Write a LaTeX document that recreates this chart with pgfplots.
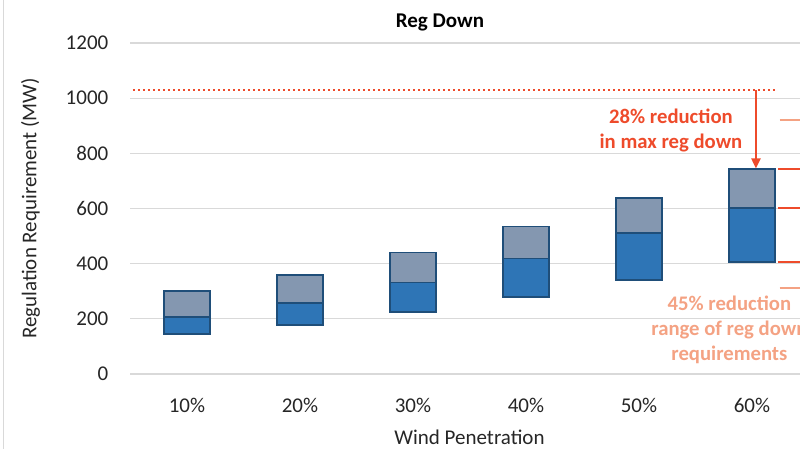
\documentclass[border=0pt]{standalone}
\usepackage{fontspec}
\setmainfont{Carlito}
\usepackage{pgfplots}
\usepackage{pgfplotstable}
\pgfplotsset{compat=1.18}
\usetikzlibrary{arrows.meta}

\definecolor{barblue}{HTML}{2E75B6}
\definecolor{bargray}{HTML}{8497B0}
\definecolor{baredge}{HTML}{1F4E79}
\definecolor{gridgray}{HTML}{D9D9D9}
\definecolor{redline}{HTML}{EE4B2B}
\definecolor{salmon}{HTML}{F4A283}
\definecolor{txt}{HTML}{262626}

% min, (mid-min), (max-mid) per wind penetration level
\pgfplotstableread{
x base low high
0 145 62 94
1 178 79 102
2 224 108 108
3 280 138 116
4 341 170 127
5 406 196 141
}\regdown

\pgfplotsset{
  geom/.style={
    at={(0pt,0pt)}, anchor=south west,
    scale only axis, width=678pt, height=331pt,
    xmin=-0.5, xmax=5.5, ymin=0, ymax=1200,
  },
}

\begin{document}
\begin{tikzpicture}
\begin{axis}[
  geom,
  ybar stacked, bar width=46pt,
  xtick={0,...,5}, xticklabels={10\%,20\%,30\%,40\%,50\%,60\%},
  ytick={0,200,...,1200},
  ymajorgrids, major grid style={gridgray, line width=1.3pt},
  axis line style={draw=none}, major tick length=0pt,
  tick label style={font=\fontsize{21}{25}\selectfont, text=txt},
  /pgf/number format/assume math mode=true,
  /pgf/number format/1000 sep={},
  yticklabel style={anchor=east, inner sep=0pt, xshift=-22pt},
  xticklabel style={anchor=north, inner sep=0pt, yshift=-24pt},
  title={Reg Down},
  title style={at={(axis description cs:0.4565,1)}, anchor=center, yshift=15pt,
    font=\fontsize{21}{25}\selectfont\bfseries, text=black},
  xlabel={Wind Penetration},
  xlabel style={at={(axis description cs:0.5,0)}, anchor=center, yshift=-63pt,
    font=\fontsize{21}{25}\selectfont, text=txt},
  ylabel={Regulation Requirement (MW)},
  ylabel style={at={(axis description cs:-0.1475,0.5)}, anchor=center,
    font=\fontsize{21}{25}\selectfont, text=txt},
  clip=false,
]
\addplot[draw=none, fill=none] table[x=x, y=base] {\regdown};
\addplot[fill=barblue, draw=baredge, line width=1.5pt] table[x=x, y=low] {\regdown};
\addplot[fill=bargray, draw=baredge, line width=1.5pt] table[x=x, y=high] {\regdown};
\end{axis}

\begin{axis}[geom, hide axis, clip=false]
% max reg down reference level
\addplot[redline, line width=2.2pt, dash pattern=on 2.2pt off 2.8pt]
  coordinates {(-0.48,1030) (5.22,1030)};
\addplot[redline, line width=2pt, -{Triangle[length=10pt,width=9pt]}]
  coordinates {(5.035,1030) (5.035,745)};
% range markers
\addplot[redline, line width=2.5pt] coordinates {(5.23,743) (5.6,743)};
\addplot[redline, line width=2.5pt] coordinates {(5.23,602) (5.6,602)};
\addplot[redline, line width=2.5pt] coordinates {(5.23,406) (5.6,406)};
\addplot[salmon, line width=2pt] coordinates {(5.245,921) (5.6,921)};
\addplot[salmon, line width=2pt] coordinates {(5.245,312) (5.6,312)};
\node[text=redline, align=center, font=\fontsize{20.7}{25.5}\selectfont\bfseries]
  at (axis cs:4.283,882) {28\% reduction\\in max reg down};
\node[text=salmon, align=center, font=\fontsize{20.7}{25}\selectfont\bfseries]
  at (axis cs:4.80,159) {45\% reduction\\range of reg down\\requirements};
\end{axis}

\draw[gridgray, line width=1.2pt] (-127pt,-75pt) -- (-127pt,374pt);
\pgfresetboundingbox
\useasboundingbox (-130.5pt,-75pt) rectangle (669.5pt,374pt);
\end{tikzpicture}
\end{document}
